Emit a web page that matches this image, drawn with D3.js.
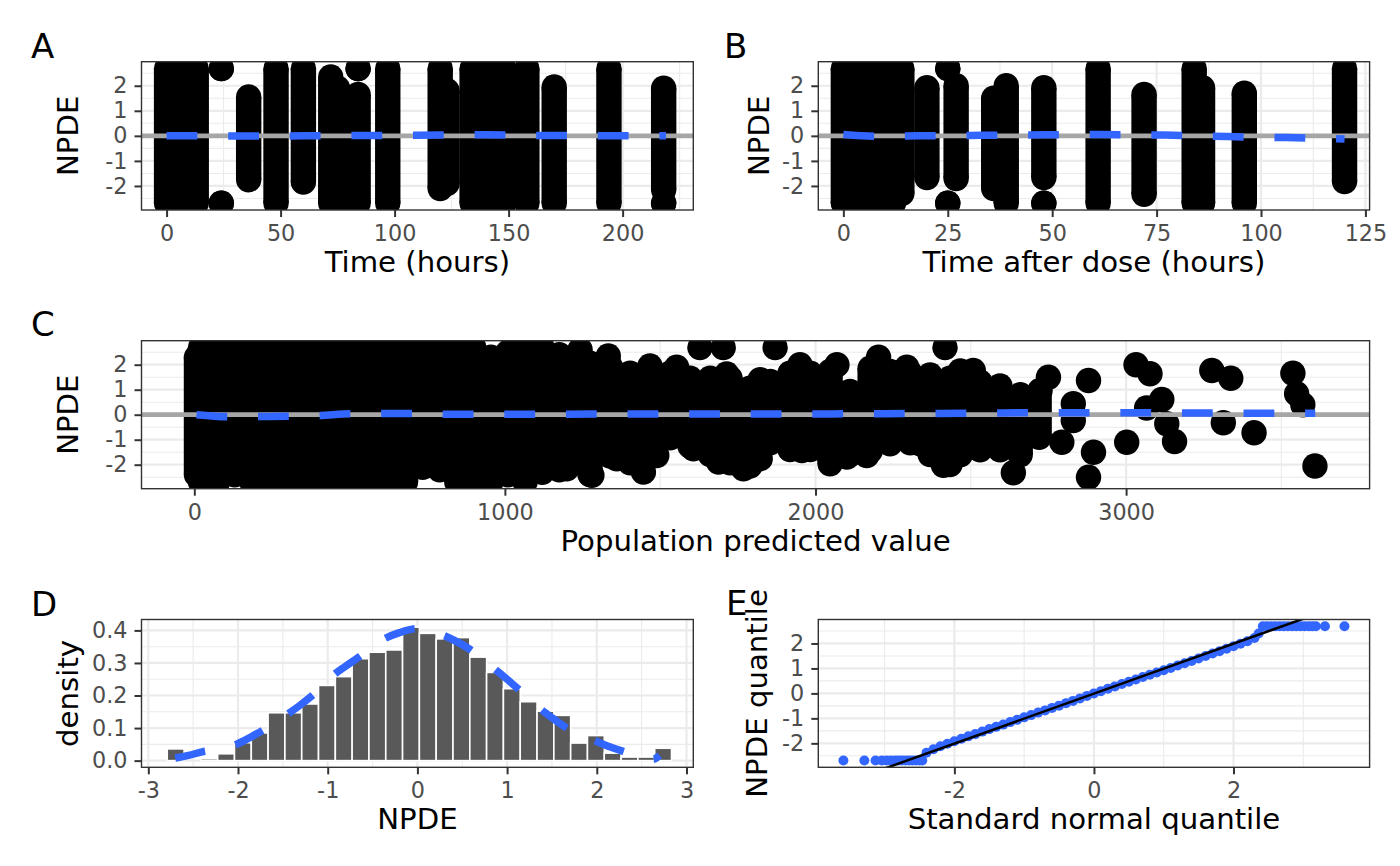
<!DOCTYPE html>
<html>
<head>
<meta charset="utf-8">
<script src="https://cdn.jsdelivr.net/npm/d3@7"></script>
<style>
  body { margin: 0; background: #fff; }
  text { font-family: "DejaVu Sans", sans-serif; }
</style>
</head>
<body>
<script>
// ---- data ----
// scatter columns: [x, lowest NPDE, highest NPDE] (overlapping points collapse into columns)
var timeCols = [
  [0, -2.69, 2.69], [3, -2.69, 2.69], [6, -2.69, 2.69], [9, -2.69, 2.69], [13, -2.69, 2.69],
  [24, 2.69, 2.69], [24, -2.69, -2.69], [36, -1.75, 1.55], [48, -2.69, 2.69], [60, -1.84, 2.69],
  [72, -2.69, 2.35], [75, -2.69, 1.9], [84, 2.69, 2.69], [84, -2.69, 1.65], [97, -2.69, 2.69],
  [120, -2.1, 2.69], [123, -1.9, 1.8], [134, -2.69, 2.69], [137, -2.69, 2.69], [140, -2.69, 2.69],
  [143, -2.69, 2.69], [146, -2.69, 2.69], [148, -2.69, 2.69], [158, -2.69, 2.69], [170, -2.69, 1.95],
  [194, -2.69, 2.69], [218, -2.15, 1.9], [218, -2.69, -2.69]
];
var tadCols = [
  [0, -2.69, 2.69], [2, -2.69, 2.69], [4, -2.69, 2.69], [6, -2.69, 2.69], [8, -2.69, 2.69],
  [10, -2.69, 2.69], [12, -2.69, 2.69], [14, -2.3, 2.69], [20, -1.66, 1.92], [25, 2.69, 2.69],
  [25, -2.69, -2.69], [27, -1.7, 2.0], [36, -2.1, 1.5], [39, -2.69, 2.0], [48, -1.66, 1.92],
  [48, -2.69, -2.69], [61, -2.69, 2.69], [72, -2.33, 1.65], [84, -2.69, 2.69], [86, -2.69, 1.92],
  [96, -2.69, 1.7], [120, -1.82, 2.69]
];
var predCols = [
  [7, -2.4, 2.3], [20, -2.69, 2.69], [75, -2.69, 2.69], [130, -2.4, 2.69], [185, -2.69, 2.69],
  [240, -2.69, 2.69], [295, -2.69, 2.69], [350, -2.69, 2.69], [405, -2.69, 2.69], [460, -2.69, 2.69],
  [515, -2.69, 2.69], [570, -2.69, 2.69], [625, -2.69, 2.6], [680, -2.69, 2.69], [735, -2.1, 2.69],
  [790, -2.2, 2.5], [845, -2.69, 2.69], [900, -2.69, 2.69], [955, -2.69, 2.3], [1010, -2.4, 2.5],
  [1065, -2.69, 2.69], [1120, -2.3, 2.69], [1175, -2.2, 2.4], [1210, -1.72, 2.19], [1274, -2.39, 2.06],
  [1339, -1.65, 1.93], [1403, -1.92, 1.66], [1467, -1.65, 1.86], [1532, -0.92, 1.66], [1596, -1.25, 1.46],
  [1661, -1.59, 1.46], [1725, -1.92, 1.46], [1789, -2.05, 1.06], [1854, -1.12, 1.33], [1918, -1.39, 1.66],
  [1983, -1.39, 1.66], [2047, -1.85, 1.73], [2111, -1.59, 0.93], [2176, -1.45, 1.86], [2240, -0.99, 1.73],
  [2305, -1.12, 1.66], [2369, -1.59, 1.59], [2433, -1.99, 1.46], [2466, -1.6, 1.75], [2498, -0.99, 1.53],
  [2530, -1.4, 1.3], [2594, -1.4, 1.15], [2659, -1.6, 0.8], [2720, -0.9, 0.9]
];
// single points of panel C: [pred, NPDE]
var predPoints = [
  [1242, 2.6], [1333, 2.35], [1467, 1.95], [1553, 1.9], [1628, 2.69], [1703, 2.69], [1714, 1.63],
  [1822, 1.4], [1870, 2.69], [1950, 2.0], [2069, 2.0], [2203, 2.3], [2294, 1.9], [2417, 2.69], [2508, 1.77],
  [1199, -2.16], [1280, -2.42], [1360, -1.76], [1446, -2.29], [1489, -1.63], [1607, -1.36], [1688, -1.89],
  [1768, -2.16], [1822, -1.76], [1956, -1.43], [2047, -1.96], [2101, -1.69], [2165, -1.63], [2240, -1.16],
  [2337, -1.16], [2412, -2.02], [2444, -1.09], [2508, -1.23],
  [2637, -2.32], [2723, 0.97], [2750, 1.5], [2793, -1.1], [2830, 0.44], [2830, -0.23], [2879, 1.37],
  [2879, -2.5], [2895, -1.5], [3002, -1.1], [3032, 2.0], [3066, 0.27], [3077, 1.64], [3115, 0.61],
  [3131, -0.36], [3156, -1.07], [3276, 1.77], [3313, -0.32], [3337, 1.46], [3412, -0.72], [3537, 1.66],
  [3549, 0.84], [3569, 0.4], [3608, -2.05]
];

// smooth (dashed blue) lines
var timeSmoothX = [0, 20, 40, 60, 80, 100, 120, 140, 160, 180, 200, 219];
var timeSmoothY = [0, 0, -0.01, 0, 0.01, 0.02, 0.03, 0.04, 0.02, 0.01, 0, 0];
var tadSmoothX = [0, 8, 18, 33, 48, 62, 77, 92, 106, 120];
var tadSmoothY = [0.05, -0.02, 0, 0.02, 0.04, 0.05, 0.03, -0.03, -0.07, -0.13];
var predSmoothX = [7, 107, 206, 305, 403, 502, 600, 700, 800, 900, 1100, 1500, 1800, 2000, 2200, 2400, 2600, 2800, 3000, 3200, 3400, 3609];
var predSmoothY = [0, -0.08, -0.07, -0.06, -0.03, 0.04, 0.05, 0.05, 0.02, 0.02, 0.02, 0.03, 0.03, 0.03, 0.04, 0.05, 0.07, 0.08, 0.08, 0.07, 0.06, 0.06];

// histogram (30 bins)
var binStart = -2.789, binWidth = 0.1874;
var binDensity = [0.036, 0, 0.006, 0.021, 0.055, 0.085, 0.147, 0.147, 0.174, 0.231, 0.258, 0.313, 0.333, 0.340, 0.410,
                  0.391, 0.374, 0.378, 0.318, 0.271, 0.221, 0.181, 0.152, 0.139, 0.054, 0.077, 0.023, 0.011, 0.011, 0.038];
var densX = [-2.7, -2.55, -2.4, -2.2, -2.04, -1.9, -1.75, -1.6, -1.45, -1.3, -1.18, -1.05, -0.93, -0.8, -0.66, -0.5, -0.37, -0.2, -0.03,
             0.1, 0.29, 0.45, 0.59, 0.73, 0.87, 1.0, 1.12, 1.25, 1.38, 1.51, 1.65, 1.8, 1.97, 2.12, 2.28, 2.45, 2.58, 2.64, 2.7];
var densY = [0.008, 0.016, 0.027, 0.036, 0.048, 0.066, 0.089, 0.113, 0.142, 0.172, 0.198, 0.23, 0.264, 0.29, 0.317, 0.35, 0.374, 0.393, 0.405,
             0.402, 0.385, 0.364, 0.341, 0.311, 0.28, 0.25, 0.221, 0.189, 0.157, 0.13, 0.103, 0.08, 0.062, 0.045, 0.03, 0.016, 0.007, 0.005, 0.016];

// QQ plot
var qqTheo = [-3.59, -3.29, -3.13, -3.04, -2.97, -2.91, -2.85, -2.8, -2.75, -2.7, -2.65, -2.6, -2.55, -2.5, -2.46,
  -2.4, -2.3, -2.2, -2.1, -2.0, -1.9, -1.8, -1.7, -1.6, -1.5, -1.4, -1.3, -1.2, -1.1, -1.0, -0.9, -0.8, -0.7, -0.6, -0.5,
  -0.4, -0.3, -0.2, -0.1, 0, 0.1, 0.2, 0.3, 0.4, 0.5, 0.6, 0.7, 0.8, 0.9, 1.0, 1.1, 1.2, 1.3, 1.4, 1.5, 1.6, 1.7, 1.8,
  1.9, 2.0, 2.1, 2.2, 2.3, 2.36, 2.42, 2.48, 2.54, 2.6, 2.66, 2.72, 2.78, 2.84, 2.9, 2.96, 3.02, 3.08, 3.13, 3.18, 3.31, 3.59];
var qqSample = [-2.69, -2.69, -2.69, -2.69, -2.69, -2.69, -2.69, -2.69, -2.69, -2.69, -2.69, -2.69, -2.69, -2.69, -2.69,
  -2.38, -2.24, -2.12, -2.02, -1.92, -1.82, -1.72, -1.63, -1.53, -1.43, -1.34, -1.25, -1.15, -1.06, -0.96, -0.87, -0.77, -0.68, -0.58, -0.49,
  -0.39, -0.3, -0.2, -0.1, 0, 0.09, 0.19, 0.28, 0.38, 0.47, 0.56, 0.66, 0.75, 0.84, 0.93, 1.02, 1.12, 1.21, 1.3, 1.4, 1.5, 1.6, 1.69,
  1.79, 1.89, 1.99, 2.09, 2.22, 2.4, 2.69, 2.69, 2.69, 2.69, 2.69, 2.69, 2.69, 2.69, 2.69, 2.69, 2.69, 2.69, 2.69, 2.69, 2.69, 2.69];
var qqLine = { slope: 1.0, intercept: -0.01 };

var npdeTicks = [-2, -1, 0, 1, 2];
var npdeMinor = [-2.5, -1.5, -0.5, 0.5, 1.5, 2.5];

// ---- drawing ----
var width = 1400, height = 866;
var blue = "#3366FF";
var svg = d3.select("body").append("svg")
    .attr("width", width)
    .attr("height", height);

function makePanel(p) {
  var x = d3.scaleLinear().domain(p.xDomain).range([p.l, p.r]);
  var y = d3.scaleLinear().domain(p.yDomain).range([p.b, p.t]);
  var g = svg.append("g");

  var grid = g.append("g");
  function vlines(vals, w) {
    grid.selectAll(null).data(vals).enter().append("line")
      .attr("x1", d => x(d)).attr("x2", d => x(d)).attr("y1", p.t).attr("y2", p.b)
      .attr("stroke", "#EBEBEB").attr("stroke-width", w);
  }
  function hlines(vals, w) {
    grid.selectAll(null).data(vals).enter().append("line")
      .attr("y1", d => y(d)).attr("y2", d => y(d)).attr("x1", p.l).attr("x2", p.r)
      .attr("stroke", "#EBEBEB").attr("stroke-width", w);
  }
  vlines(p.xMinor, 1.1); hlines(p.yMinor, 1.1);
  vlines(p.xMajor, 2.2); hlines(p.yMajor, 2.2);

  var id = "clip" + p.tag;
  svg.append("clipPath").attr("id", id).append("rect")
    .attr("x", p.l).attr("y", p.t).attr("width", p.r - p.l).attr("height", p.b - p.t);
  var plot = g.append("g").attr("clip-path", `url(#${id})`);

  g.append("rect")
    .attr("x", p.l).attr("y", p.t).attr("width", p.r - p.l).attr("height", p.b - p.t)
    .attr("fill", "none").attr("stroke", "#333333").attr("stroke-width", 1.4);

  var ax = g.append("g").attr("transform", `translate(0,${p.b})`)
    .call(d3.axisBottom(x).tickValues(p.xMajor).tickSize(7).tickPadding(8).tickFormat(p.xFormat || String));
  var ay = g.append("g").attr("transform", `translate(${p.l},0)`)
    .call(d3.axisLeft(y).tickValues(p.yMajor).tickSize(7).tickPadding(7).tickFormat(p.yFormat || String));
  [ax, ay].forEach(a => {
    a.select(".domain").remove();
    a.selectAll(".tick line").attr("stroke", "#333333").attr("stroke-width", 2);
    a.selectAll(".tick text").attr("fill", "#4D4D4D").style("font-size", "22.3px")
      .style("font-family", "DejaVu Sans");
  });

  g.append("text")
    .attr("x", (p.l + p.r) / 2).attr("y", p.b + 62)
    .attr("text-anchor", "middle").style("font-size", "29.2px")
    .text(p.xTitle);
  g.append("text")
    .attr("transform", `translate(${p.yTitleX},${(p.t + p.b) / 2}) rotate(-90)`)
    .attr("text-anchor", "middle").style("font-size", "29.2px")
    .text(p.yTitle);
  g.append("text")
    .attr("x", p.tagX).attr("y", p.tagY)
    .style("font-size", "34px")
    .text(p.tag);

  return { x: x, y: y, plot: plot, p: p };
}

function drawCols(panel, cols, r) {
  var x = panel.x, y = panel.y, plot = panel.plot;
  plot.append("g").selectAll("rect").data(cols).enter().append("rect")
    .attr("x", d => x(d[0]) - r).attr("width", 2 * r)
    .attr("y", d => y(d[2])).attr("height", d => y(d[1]) - y(d[2]))
    .attr("fill", "black");
  var ends = [];
  cols.forEach(d => { ends.push([d[0], d[1]]); ends.push([d[0], d[2]]); });
  drawPoints(panel, ends, r, "black");
}

function drawPoints(panel, pts, r, color) {
  panel.plot.append("g").selectAll("circle").data(pts).enter().append("circle")
    .attr("cx", d => panel.x(d[0])).attr("cy", d => panel.y(d[1])).attr("r", r)
    .attr("fill", color);
}

function drawZero(panel) {
  var p = panel.p;
  panel.plot.append("line")
    .attr("x1", p.l).attr("x2", p.r).attr("y1", panel.y(0)).attr("y2", panel.y(0))
    .attr("stroke", "#A6A6A6").attr("stroke-width", 4.7);
}

function drawDashed(panel, xs, ys, curve) {
  var line = d3.line().x(d => panel.x(d[0])).y(d => panel.y(d[1])).curve(curve || d3.curveMonotoneX);
  panel.plot.append("path")
    .datum(xs.map((v, i) => [v, ys[i]]))
    .attr("d", line)
    .attr("fill", "none").attr("stroke", blue).attr("stroke-width", 7.5)
    .attr("stroke-dasharray", "30.8,30.8");
}

var npdeDomain = [-2.96, 2.96];
var r = 12.7;

// A
var pA = makePanel({
  tag: "A", tagX: 31, tagY: 58, l: 141.5, r: 693.3, t: 61.7, b: 210,
  xDomain: [-11, 231], yDomain: npdeDomain,
  xMajor: [0, 50, 100, 150, 200], xMinor: [25, 75, 125, 175, 225],
  yMajor: npdeTicks, yMinor: npdeMinor,
  xTitle: "Time (hours)", yTitle: "NPDE", yTitleX: 78
});
drawCols(pA, timeCols, r);
drawZero(pA);
drawDashed(pA, timeSmoothX, timeSmoothY);

// B
var pB = makePanel({
  tag: "B", tagX: 724, tagY: 58, l: 818.3, r: 1369.6, t: 61.7, b: 210,
  xDomain: [-6, 126], yDomain: npdeDomain,
  xMajor: [0, 25, 50, 75, 100, 125], xMinor: [12.5, 37.5, 62.5, 87.5, 112.5],
  yMajor: npdeTicks, yMinor: npdeMinor,
  xTitle: "Time after dose (hours)", yTitle: "NPDE", yTitleX: 769
});
drawCols(pB, tadCols, r);
drawZero(pB);
drawDashed(pB, tadSmoothX, tadSmoothY);

// C
var pC = makePanel({
  tag: "C", tagX: 31, tagY: 336, l: 141.5, r: 1369.6, t: 340.7, b: 488.7,
  xDomain: [-170, 3784], yDomain: npdeDomain,
  xMajor: [0, 1000, 2000, 3000], xMinor: [500, 1500, 2500, 3500],
  yMajor: npdeTicks, yMinor: npdeMinor,
  xTitle: "Population predicted value", yTitle: "NPDE", yTitleX: 78
});
drawCols(pC, predCols, r);
drawPoints(pC, predPoints, r, "black");
drawZero(pC);
drawDashed(pC, predSmoothX, predSmoothY);

// D
var pD = makePanel({
  tag: "D", tagX: 31, tagY: 616, l: 141.5, r: 693.3, t: 619.5, b: 767.3,
  xDomain: [-3.076, 3.076], yDomain: [-0.0205, 0.4335],
  xMajor: [-3, -2, -1, 0, 1, 2, 3], xMinor: [-2.5, -1.5, -0.5, 0.5, 1.5, 2.5],
  yMajor: [0, 0.1, 0.2, 0.3, 0.4], yMinor: [0.05, 0.15, 0.25, 0.35],
  yFormat: d3.format(".1f"),
  xTitle: "NPDE", yTitle: "density", yTitleX: 78
});
pD.plot.append("g").selectAll("rect").data(binDensity).enter().append("rect")
  .attr("x", (d, i) => pD.x(binStart + i * binWidth))
  .attr("width", pD.x(binWidth) - pD.x(0))
  .attr("y", d => pD.y(d))
  .attr("height", d => pD.y(0) - pD.y(d))
  .attr("fill", "#595959").attr("stroke", "white").attr("stroke-width", 1.6);
drawDashed(pD, densX, densY, d3.curveCatmullRom);

// E
var pE = makePanel({
  tag: "E", tagX: 726, tagY: 615, l: 818.3, r: 1369.6, t: 619.5, b: 767.3,
  xDomain: [-3.95, 3.95], yDomain: npdeDomain,
  xMajor: [-2, 0, 2], xMinor: [-3, -1, 1, 3],
  yMajor: npdeTicks, yMinor: npdeMinor,
  xTitle: "Standard normal quantile", yTitle: "NPDE quantile", yTitleX: 767
});
drawPoints(pE, qqTheo.map((v, i) => [v, qqSample[i]]), 5, blue);
pE.plot.append("line")
  .attr("x1", pE.x(-3.95)).attr("y1", pE.y(qqLine.slope * -3.95 + qqLine.intercept))
  .attr("x2", pE.x(3.95)).attr("y2", pE.y(qqLine.slope * 3.95 + qqLine.intercept))
  .attr("stroke", "black").attr("stroke-width", 2.5);
</script>
</body>
</html>
